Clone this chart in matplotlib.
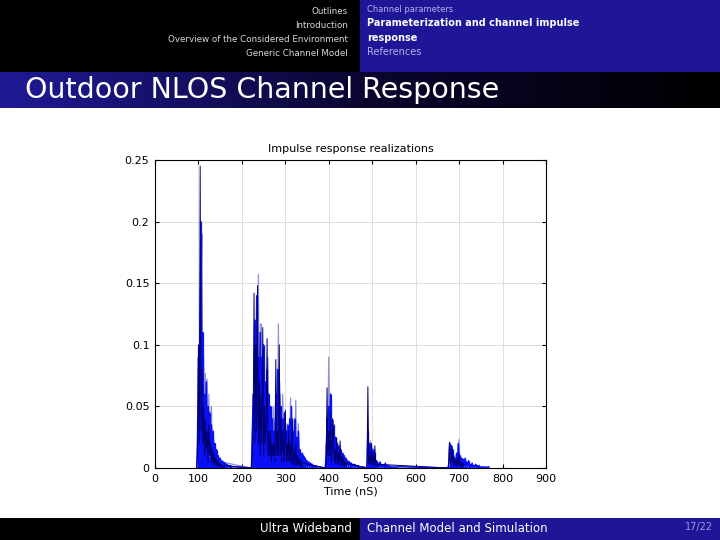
import numpy as np
import matplotlib
matplotlib.use("Agg")
import matplotlib.pyplot as plt

STEP_NS = 2
CLUSTER_START = [96, 222, 392, 486, 674]   # ns, first sample of each cluster

# realization 1 (bright blue)
BLUE = [
    [0.0, 0.02, 0.09, 0.04, 0.12, 0.20, 0.03, 0.11, 0.02, 0.06, 0.015, 0.07, 0.02, 0.05,
     0.01, 0.045, 0.015, 0.035, 0.008, 0.03, 0.01, 0.02, 0.005, 0.015, 0.004, 0.01, 0.003,
     0.008, 0.002, 0.006, 0.002, 0.005, 0.001, 0.004, 0.001, 0.003, 0.001, 0.002, 0.001,
     0.002, 0.0, 0.001],
    [0.0, 0.03, 0.06, 0.02, 0.12, 0.04, 0.14, 0.05, 0.09, 0.03, 0.11, 0.04, 0.09, 0.03,
     0.10, 0.04, 0.07, 0.02, 0.08, 0.03, 0.06, 0.02, 0.05, 0.01, 0.04, 0.015, 0.03, 0.01,
     0.06, 0.02, 0.08, 0.03, 0.07, 0.02, 0.05, 0.01, 0.04, 0.015, 0.045, 0.01, 0.03, 0.01,
     0.035, 0.008, 0.04, 0.01, 0.05, 0.008, 0.03, 0.01, 0.04, 0.008, 0.025, 0.005, 0.03,
     0.005, 0.015, 0.004, 0.012, 0.003, 0.01, 0.002, 0.008, 0.002, 0.006, 0.001, 0.005,
     0.001, 0.004, 0.001, 0.003, 0.001, 0.002, 0.0, 0.002, 0.0, 0.001],
    [0.0, 0.01, 0.04, 0.02, 0.05, 0.03, 0.06, 0.02, 0.04, 0.01, 0.035, 0.01, 0.025, 0.008,
     0.02, 0.01, 0.018, 0.005, 0.015, 0.006, 0.012, 0.004, 0.01, 0.003, 0.008, 0.002, 0.006,
     0.002, 0.005, 0.001, 0.004, 0.001, 0.003, 0.001, 0.003, 0.001, 0.002, 0.001, 0.002,
     0.0, 0.001, 0.001, 0.0, 0.001],
    [0.0, 0.002, 0.03, 0.01, 0.02, 0.008, 0.018, 0.006, 0.015, 0.004, 0.012, 0.003, 0.006,
     0.002, 0.004, 0.001, 0.005, 0.001, 0.003, 0.001, 0.002, 0.001, 0.004, 0.001, 0.002,
     0.001, 0.002, 0.0, 0.001, 0.001, 0.0, 0.001, 0.001, 0.0, 0.001, 0.0, 0.001],
    [0.0, 0.002, 0.02, 0.006, 0.018, 0.005, 0.015, 0.004, 0.008, 0.003, 0.012, 0.004, 0.02,
     0.005, 0.01, 0.003, 0.008, 0.002, 0.007, 0.002, 0.008, 0.002, 0.005, 0.001, 0.006,
     0.001, 0.003, 0.001, 0.004, 0.001, 0.002, 0.001, 0.003, 0.001, 0.002, 0.0, 0.002,
     0.001, 0.001, 0.0, 0.001, 0.001, 0.0, 0.001, 0.0, 0.001, 0.0, 0.001],
]

# realization 2 (navy)
NAVY = [
    [0.0, 0.01, 0.10, 0.02, 0.245, 0.03, 0.08, 0.02, 0.05, 0.01, 0.04, 0.015, 0.03, 0.005,
     0.035, 0.01, 0.02, 0.005, 0.015, 0.003, 0.012, 0.002, 0.008, 0.002, 0.006, 0.001,
     0.004, 0.001, 0.003, 0.001, 0.002, 0.0, 0.002],
    [0.0, 0.01, 0.04, 0.142, 0.02, 0.10, 0.03, 0.148, 0.02, 0.07, 0.01, 0.06, 0.02, 0.114,
     0.01, 0.05, 0.02, 0.04, 0.105, 0.01, 0.03, 0.01, 0.03, 0.005, 0.02, 0.01, 0.02, 0.005,
     0.088, 0.01, 0.03, 0.01, 0.10, 0.01, 0.04, 0.005, 0.03, 0.005, 0.02, 0.047, 0.005,
     0.02, 0.005, 0.03, 0.005, 0.02, 0.003, 0.04, 0.003, 0.015, 0.002, 0.02, 0.002, 0.01,
     0.002, 0.008, 0.001, 0.006, 0.001, 0.004],
    [0.0, 0.005, 0.065, 0.01, 0.03, 0.01, 0.045, 0.005, 0.02, 0.039, 0.005, 0.015, 0.003,
     0.024, 0.004, 0.012, 0.003, 0.022, 0.002, 0.01, 0.002, 0.008, 0.001, 0.005, 0.001,
     0.004],
    [0.0, 0.001, 0.066, 0.004, 0.01, 0.003, 0.02, 0.002, 0.01, 0.002, 0.018, 0.002, 0.005,
     0.001, 0.003],
    [0.0, 0.001, 0.021, 0.003, 0.008, 0.018, 0.002, 0.01, 0.002, 0.006, 0.001, 0.008,
     0.002, 0.012, 0.001, 0.005, 0.001, 0.004, 0.001, 0.003],
]

# realization 3 (light blue)
LIGHT = [
    [0.0, 0.04, 0.02, 0.10, 0.05, 0.15, 0.19, 0.04, 0.09, 0.02, 0.077, 0.01, 0.072, 0.02,
     0.06, 0.01, 0.04, 0.05, 0.01, 0.025, 0.005, 0.018, 0.003, 0.012, 0.002, 0.008, 0.001,
     0.005],
    [0.0, 0.02, 0.01, 0.06, 0.03, 0.09, 0.02, 0.06, 0.157, 0.03, 0.08, 0.117, 0.02, 0.07,
     0.03, 0.09, 0.02, 0.06, 0.01, 0.09, 0.02, 0.05, 0.01, 0.03, 0.01, 0.05, 0.02, 0.04,
     0.01, 0.05, 0.02, 0.117, 0.03, 0.06, 0.02, 0.04, 0.06, 0.01, 0.03, 0.01, 0.02, 0.036,
     0.01, 0.02, 0.005, 0.057, 0.01, 0.02, 0.039, 0.005, 0.02, 0.055, 0.005, 0.015, 0.036,
     0.005, 0.01, 0.003, 0.008, 0.012, 0.002, 0.006, 0.001, 0.004, 0.001, 0.003],
    [0.0, 0.02, 0.01, 0.04, 0.09, 0.02, 0.05, 0.01, 0.03, 0.02, 0.025, 0.005, 0.02, 0.003,
     0.012, 0.002, 0.01, 0.002, 0.008, 0.001, 0.005],
    [0.0, 0.003, 0.012, 0.02, 0.005, 0.022, 0.004, 0.016, 0.003, 0.01, 0.002, 0.006, 0.001,
     0.004, 0.001, 0.002],
    [0.0, 0.004, 0.008, 0.015, 0.003, 0.01, 0.004, 0.008, 0.002, 0.006, 0.003, 0.01, 0.006,
     0.023, 0.004, 0.01, 0.002, 0.006, 0.001, 0.004],
]

X_TICKS = [0, 100, 200, 300, 400, 500, 600, 700, 800, 900]
Y_TICKS = [0, 0.05, 0.1, 0.15, 0.2, 0.25]
Y_LABELS = ["0", "0.05", "0.1", "0.15", "0.2", "0.25"]

HEAD_LEFT = ["Outlines", "Introduction", "Overview of the Considered Environment",
             "Generic Channel Model"]
HEAD_RIGHT = ["Channel parameters", "Parameterization and channel impulse", "response",
              "References"]

SLIDE_BLUE = "#1e1696"


def series(clusters):
    t, a = [], []
    for t0, amps in zip(CLUSTER_START, clusters):
        t.extend(t0 + STEP_NS * np.arange(len(amps)))
        a.extend(amps)
    return np.array(t), np.array(a)


fig = plt.figure(figsize=(7.2, 5.4), dpi=100)
fig.patch.set_facecolor("white")

# slide chrome
bg = fig.add_axes([0, 0, 1, 1], zorder=-5)
bg.axis("off")
bg.add_patch(plt.Rectangle((0, 0), 360, 72, color="black", lw=0))
bg.add_patch(plt.Rectangle((360, 0), 360, 72, color=SLIDE_BLUE, lw=0))
grad = np.linspace(0, 1, 256)[None, :]
cmap = matplotlib.colors.LinearSegmentedColormap.from_list("bar", ["#201a98", "#0a0630", "#000000"])
bg.imshow(grad, extent=(0, 720, 108, 72), cmap=cmap, aspect="auto", zorder=1)
bg.add_patch(plt.Rectangle((0, 518), 360, 22, color="black", lw=0))
bg.add_patch(plt.Rectangle((360, 518), 360, 22, color=SLIDE_BLUE, lw=0))
bg.set_xlim(0, 720)
bg.set_ylim(540, 0)

for i, s in enumerate(HEAD_LEFT):
    bg.text(348, 11 + 14 * i, s, color="#d8d8d8", fontsize=6.3, ha="right", va="center")
bg.text(367, 9, HEAD_RIGHT[0], color="#b4b4e8", fontsize=6.0, ha="left", va="center")
bg.text(367, 23, HEAD_RIGHT[1], color="white", fontsize=7.0, ha="left", va="center",
        fontweight="bold")
bg.text(367, 38, HEAD_RIGHT[2], color="white", fontsize=7.0, ha="left", va="center",
        fontweight="bold")
bg.text(367, 52, HEAD_RIGHT[3], color="#b4b4e8", fontsize=7.0, ha="left", va="center")
bg.text(25, 90, "Outdoor NLOS Channel Response", color="white", fontsize=20.5,
        ha="left", va="center", zorder=3)
bg.text(352, 529, "Ultra Wideband", color="white", fontsize=8.5, ha="right", va="center")
bg.text(367, 529, "Channel Model and Simulation", color="white", fontsize=8.5,
        ha="left", va="center")
bg.text(713, 527, "17/22", color="#9a9ad8", fontsize=7.0, ha="right", va="center")

# the chart
ax = fig.add_axes([155 / 720, 1 - 468 / 540, 391 / 720, 308 / 540])
for clusters, col, lw, alpha, z in [(LIGHT, "#8484d8", 0.9, 0.9, 2),
                                     (BLUE, "#0a10f5", 1.0, 1.0, 3),
                                     (NAVY, "#00006e", 0.7, 1.0, 4)]:
    t, a = series(clusters)
    ax.plot(t, a, color=col, lw=lw, alpha=alpha, zorder=z)
    if clusters is BLUE:
        # MATLAB's dense overlay fills the area under each burst
        ax.vlines(t, 0, a, color=col, lw=0.9, zorder=z)

ax.set_xlim(0, 900)
ax.set_ylim(0, 0.25)
ax.set_xticks(X_TICKS)
ax.set_yticks(Y_TICKS)
ax.set_yticklabels(Y_LABELS)
ax.grid(True, color="#dedede", lw=0.7)
ax.set_axisbelow(True)
ax.tick_params(direction="in", top=True, right=True, labelsize=8, length=3, pad=4)
for sp in ax.spines.values():
    sp.set_linewidth(0.8)
ax.set_title("Impulse response realizations", fontsize=8, pad=6)
ax.set_xlabel("Time (nS)", fontsize=8, labelpad=2)

fig.savefig("out.png", dpi=100)
